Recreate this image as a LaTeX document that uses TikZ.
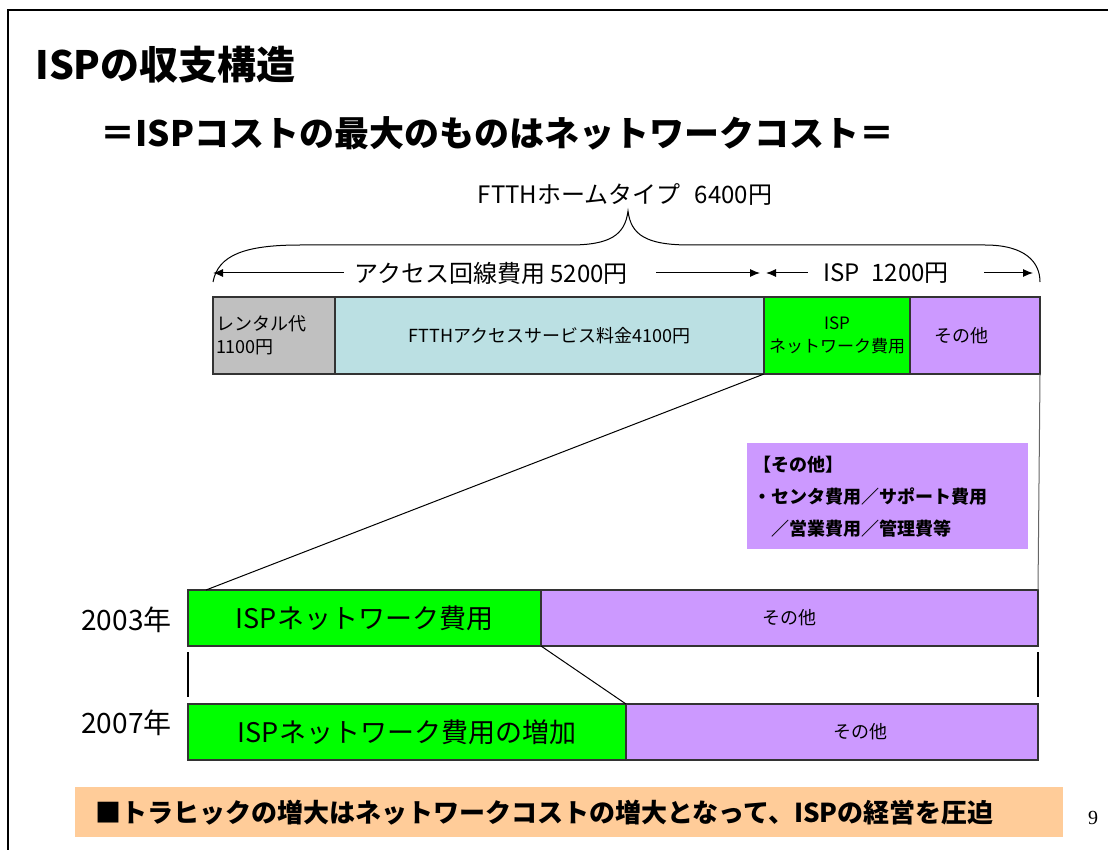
\documentclass[tikz,border=0pt]{standalone}
\usepackage{fontspec}
\setmainfont{Noto Sans CJK JP}
\newfontfamily\pagefont{Liberation Serif}
\usetikzlibrary{arrows.meta, positioning, calc}
\definecolor{rentgray}{HTML}{C0C0C0}
\definecolor{accblue}{HTML}{BBE0E3}
\definecolor{netgreen}{HTML}{00FF00}
\definecolor{othpurple}{HTML}{CC99FF}
\definecolor{bannerorange}{HTML}{FFCC99}

\begin{document}
\begin{tikzpicture}[x=0.5pt, y=-0.5pt,
    seg/.style={draw=black!80, line width=0.6pt, inner sep=0pt, outer sep=0pt, anchor=west, align=center, font=\fontsize{9}{11}\selectfont},
    yr/.style={anchor=east, inner sep=0pt, font=\fontsize{14}{16}\selectfont},
    sumtext/.style={inner sep=0pt, font=\fontsize{12}{14}\selectfont},
    arr/.style={-{Latex[length=5pt,width=4pt]}, line width=0.5pt},
    link/.style={line width=0.5pt}]
    \useasboundingbox (0,0) rectangle (1108,850);
    \draw[line width=1pt] (1108,10) -- (8,10) -- (8,850);

    \node[anchor=west, inner sep=0pt, font=\bfseries\fontsize{19.5}{22}\selectfont] (title) at (35,65) {ISPの収支構造};
    \node[anchor=west, inner sep=0pt, font=\bfseries\fontsize{17.5}{21}\selectfont] (sub) at (100,133) {＝ISPコストの最大のものはネットワークコスト＝};
    \node[sumtext] (home) at (625,195) {FTTHホームタイプ\hspace{7pt}6400円};
    \draw[line width=0.5pt] (213,282) .. controls (218,255) and (245,245) .. (300,245) -- (570,245)
        .. controls (610,245) and (625,235) .. (628,211) .. controls (631,235) and (646,245) .. (690,245)
        -- (985,245) .. controls (1025,245) and (1040,262) .. (1040,282);

    \node[sumtext] (accsum) at (491,273) {アクセス回線費用 5200円};
    \node[sumtext] (ispsum) at (886,273) {ISP\hspace{6pt}1200円};

    \node[seg, fill=rentgray, minimum width=61pt, minimum height=38.5pt, text width=58pt, inner xsep=1.5pt, align=left, font=\fontsize{9}{11.5}\selectfont] (rent) at (213,335.5) {\raisebox{-3pt}{レンタル代}\\\raisebox{-3pt}{1100円}};
    \node[seg, fill=accblue, minimum width=214.5pt, minimum height=38.5pt, right=0pt of rent] (acc) {\raisebox{-3pt}{FTTHアクセスサービス料金4100円}};
    \node[seg, fill=netgreen, minimum width=73pt, minimum height=38.5pt, right=0pt of acc, font=\fontsize{8.5}{11.5}\selectfont] (ispnet) {ISP\\ネットワーク費用};
    \node[seg, fill=othpurple, minimum width=65pt, minimum height=38.5pt, right=0pt of ispnet, text width=41pt, inner xsep=12pt, align=left] (other) {その他};

    \draw[arr] ([xshift=-5pt]accsum.west) -- (rent.north west |- accsum.west);
    \draw[arr] ([xshift=14pt]accsum.east) -- ([xshift=-2pt]ispnet.north west |- accsum.east);
    \draw[arr] ([xshift=-7.5pt]ispsum.west) -- ([xshift=1pt]ispnet.north west |- ispsum.west);
    \draw[arr] ([xshift=17.5pt]ispsum.east) -- ([xshift=-3.5pt]other.north east |- ispsum.east);

    \node[fill=othpurple, anchor=north west, minimum width=140.5pt, minimum height=53pt, text width=134.5pt, inner xsep=3pt, align=left, font=\bfseries\fontsize{9}{16}\selectfont] (note) at (747,443) {【その他】\\・センタ費用／サポート費用\\　／営業費用／管理費等};

    \node[yr] (y03) at (172,620) {2003年};
    \node[seg, fill=netgreen, minimum width=176.5pt, minimum height=28pt, font=\fontsize{13.5}{15}\selectfont] (g03) at (188,618) {ISPネットワーク費用};
    \node[seg, fill=othpurple, minimum width=248.5pt, minimum height=28pt, right=0pt of g03] (o03) {\raisebox{-1pt}{その他}};
    \node[yr] (y07) at (172,723) {2007年};
    \node[seg, fill=netgreen, minimum width=219pt, minimum height=28pt, font=\fontsize{13.5}{15}\selectfont] (g07) at (188,732) {ISPネットワーク費用の増加};
    \node[seg, fill=othpurple, minimum width=206pt, minimum height=28pt, right=0pt of g07] (o07) {\hspace*{28pt}\raisebox{-3pt}{その他}};

    \coordinate (zoomtip) at (206,590);
    \draw[link] (ispnet.south west) -- (zoomtip);
    \draw[link, draw=black!60] (other.south east) -- (o03.north east);
    \draw[link] (g03.south east) -- (g07.north east);
    \draw[line width=1pt] ([yshift=-3pt]g03.south west) -- ([yshift=3.5pt]g07.north west);
    \draw[line width=1pt] ([yshift=-3pt]o03.south east) -- ([yshift=3.5pt]o07.north east);

    \node[fill=bannerorange, anchor=north west, minimum width=494pt, minimum height=25pt, text width=474pt, inner xsep=10pt, align=left, font=\bfseries\fontsize{13}{15}\selectfont] (msg) at (75,787) {■トラヒックの増大はネットワークコストの増大となって、ISPの経営を圧迫};
    \node[inner sep=0pt, font=\pagefont\fontsize{10}{12}\selectfont] (pg) at (1093,818) {9};
\end{tikzpicture}
\end{document}
